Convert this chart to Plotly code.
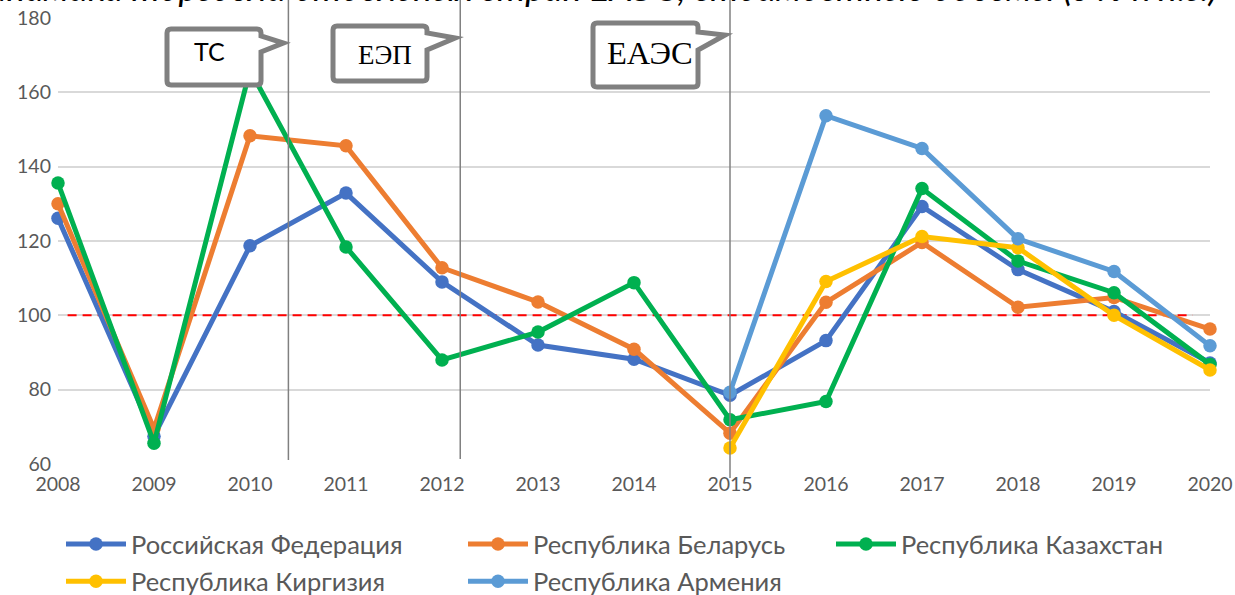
import plotly.graph_objects as go

# ---------------- data ----------------
YEARS = list(range(2008, 2021))
SERIES_NAMES = ["Российская Федерация", "Республика Беларусь", "Республика Казахстан",
                "Республика Киргизия", "Республика Армения"]
RUSSIA = [126.1, 67.5, 118.7, 132.9, 109.0, 92.0, 88.2, 78.5, 93.2, 129.3, 112.3, 101.0, 87.2]
BELARUS = [130.0, 69.5, 148.3, 145.6, 112.8, 103.6, 90.9, 68.3, 103.5, 119.6, 102.2, 104.8, 96.3]
KAZAKHSTAN = [135.6, 65.6, 166.0, 118.4, 88.0, 95.5, 108.8, 71.9, 76.8, 134.1, 114.6, 106.1, 86.8]
KYRGYZSTAN = [None, None, None, None, None, None, None, 64.3, 109.1, 121.2, 118.2, 100.0, 85.3]
ARMENIA = [None, None, None, None, None, None, None, 79.3, 153.7, 144.9, 120.6, 111.8, 91.8]

REF_LEVEL = 100
REF_SPAN = [2008.1, 2019.82]

EVENT_YEARS = [2010.4, 2012.19, 2015.0]
EVENT_LABELS = ["ТС", "ЕЭП", "ЕАЭС"]

TITLE = "Динамика торговли отдельных стран ЕАЭС, стоимостные объемы (в % к п.г.)"

Y_TICKS = [60, 80, 100, 120, 140, 160, 180]

# ---------------- layout geometry ----------------
W_FIG, H_FIG = 1235, 595
M_L, M_R, M_T, M_B = 58, 25, 18, 131
PW = W_FIG - M_L - M_R
PH = H_FIG - M_T - M_B
X_RANGE = [2008, 2020]


def fx(px):
    return (px - M_L) / PW


def fy(py):
    return (H_FIG - M_B - py) / PH


def year_px(yr):
    return M_L + (yr - X_RANGE[0]) / (X_RANGE[1] - X_RANGE[0]) * PW


COLORS = ["#4472C4", "#ED7D31", "#00B050", "#FFC000", "#5B9BD5"]
LEGEND_OF = ["legend", "legend2", "legend3", "legend", "legend2"]
VALUES = [RUSSIA, BELARUS, KAZAKHSTAN, KYRGYZSTAN, ARMENIA]

fig = go.Figure()

# reference 100 % line
fig.add_trace(go.Scatter(
    x=REF_SPAN, y=[REF_LEVEL, REF_LEVEL], mode="lines",
    line=dict(color="#FF0000", width=2, dash="9px,6px"),
    showlegend=False, hoverinfo="skip"))

for name, vals, col, lg in zip(SERIES_NAMES, VALUES, COLORS, LEGEND_OF):
    fig.add_trace(go.Scatter(
        x=YEARS, y=vals, name=name, mode="lines+markers",
        line=dict(color=col, width=5),
        marker=dict(color=col, size=13.5),
        cliponaxis=False,
        legend=lg, legendgroup=name))

shapes = []
annotations = []

# event vertical lines
EVENT_LINE_BOTTOM = [460, 459, 478]
for yr, bot in zip(EVENT_YEARS, EVENT_LINE_BOTTOM):
    shapes.append(dict(type="line", xref="x", yref="paper",
                       x0=yr, x1=yr, y0=fy(bot), y1=fy(-5),
                       line=dict(color="#808080", width=1.5), layer="above"))

# callouts (pixel geometry: box x0,x1,y0,y1, tail y0,y1, tip y)
CALLOUT_BOX = [
    (167, 261, 29, 85, 36, 52, 43),
    (333, 427, 26, 81, 33, 50, 38),
    (593, 698, 23, 87, 32, 50, 35),
]
CALLOUT_TEXT_POS = [(209, 51), (385, 55), (650, 53)]
CALLOUT_FONT = [dict(family="Lato", size=25, color="#000000"),
                dict(family="Liberation Serif", size=27, color="#000000"),
                dict(family="Liberation Serif", size=32.5, color="#000000")]


def P(x, y):
    return f"{fx(x):.5f},{fy(y):.5f}"


for yr, (x0, x1, y0, y1, ty0, ty1, tipy), lab, (tx, ty), fnt in zip(
        EVENT_YEARS, CALLOUT_BOX, EVENT_LABELS, CALLOUT_TEXT_POS, CALLOUT_FONT):
    tipx = year_px(yr) - 5
    r = 4
    d = (f"M{P(x0 + r, y0)} L{P(x1 - r, y0)} Q{P(x1, y0)} {P(x1, y0 + r)} "
         f"L{P(x1, ty0)} L{P(tipx, tipy)} L{P(x1, ty1)} "
         f"L{P(x1, y1 - r)} Q{P(x1, y1)} {P(x1 - r, y1)} "
         f"L{P(x0 + r, y1)} Q{P(x0, y1)} {P(x0, y1 - r)} "
         f"L{P(x0, y0 + r)} Q{P(x0, y0)} {P(x0 + r, y0)} Z")
    shapes.append(dict(type="path", xref="paper", yref="paper", path=d,
                       fillcolor="#FFFFFF", line=dict(color="#808080", width=5),
                       layer="above"))
    annotations.append(dict(text=lab, xref="paper", yref="paper",
                            x=fx(tx), y=fy(ty), xanchor="center", yanchor="middle",
                            showarrow=False, font=fnt))

# clipped title at the very top
annotations.append(dict(text=f"<i>{TITLE}</i>", xref="paper", yref="paper",
                        x=fx(1220), y=fy(11), xanchor="right", yanchor="bottom",
                        showarrow=False,
                        font=dict(family="Lato", size=36, color="#000000")))

legend_common = dict(orientation="v", xref="container", yref="container",
                     xanchor="left", yanchor="top", itemwidth=60,
                     traceorder="grouped", tracegroupgap=1,
                     font=dict(family="Lato", size=25.5, color="#595959"),
                     bgcolor="rgba(0,0,0,0)", borderwidth=0)

LEG_TOP = 1 - 521 / H_FIG

fig.update_layout(
    width=W_FIG, height=H_FIG,
    margin=dict(l=M_L, r=M_R, t=M_T, b=M_B, autoexpand=False),
    paper_bgcolor="#FFFFFF", plot_bgcolor="#FFFFFF",
    showlegend=True,
    legend=dict(legend_common, x=61 / W_FIG, y=LEG_TOP),
    legend2=dict(legend_common, x=463 / W_FIG, y=LEG_TOP),
    legend3=dict(legend_common, x=831 / W_FIG, y=LEG_TOP),
    xaxis=dict(range=X_RANGE, tickmode="array", tickvals=YEARS,
               ticktext=[str(y) for y in YEARS], showgrid=False, zeroline=False,
               showline=False, ticks="", ticklabelstandoff=6,
               tickfont=dict(family="Lato", size=19.5, color="#595959")),
    yaxis=dict(range=[Y_TICKS[0], Y_TICKS[-1]], tickmode="array", tickvals=Y_TICKS,
               showgrid=True, gridcolor="#D9D9D9", gridwidth=1.5, zeroline=False,
               showline=False, ticks="", ticklabelstandoff=6,
               tickfont=dict(family="Lato", size=19.5, color="#595959")),
    shapes=shapes,
    annotations=annotations,
    hovermode=False,
)

fig.write_html("out.html", config={"displayModeBar": False},
               post_script="document.body.style.margin='0';")
